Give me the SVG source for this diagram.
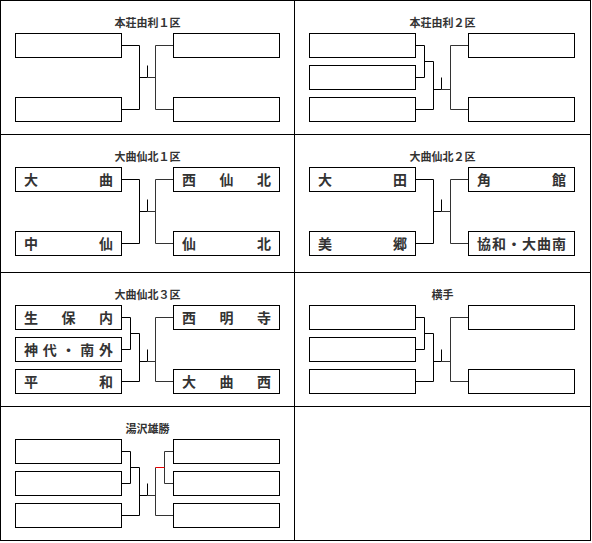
<svg xmlns="http://www.w3.org/2000/svg" width="592" height="543" viewBox="0 0 592 543">
<style>
.grid{fill:none;stroke:#000;stroke-width:1}
.box{fill:#fff;stroke:#000;stroke-width:1}
.ln{fill:none;stroke:#000;stroke-width:1}
.lr{fill:none;stroke:#333;stroke-width:1}
.red{fill:none;stroke:#e00;stroke-width:1}
.title{font-family:"Noto Sans CJK JP","Noto Sans CJK SC",sans-serif;font-size:11px;font-weight:bold;fill:#333;text-anchor:middle}
.name{font-family:"Noto Sans CJK JP","Noto Sans CJK SC",sans-serif;font-size:14px;font-weight:bold;fill:#333}
</style>
<rect width="592" height="543" fill="#fff"/>
<g id="grid">
<rect class="grid" x="0.5" y="0.5" width="590" height="540"/>
<path class="grid" d="M294.5 0.5V540.5M0.5 134.5H590.5M0.5 272.5H590.5M0.5 406.5H590.5"/>
</g>
<g id="connectors">
<path class="ln" d="M121.5 45.5H139.5V109.5H121.5M139.5 77.5H147.5M147.5 65.5V77.5"/>
<path class="lr" d="M147.5 77.5H155.5M173.5 45.5H155.5V109.5H173.5"/>
<path class="ln" d="M415.5 45.5H424.5V77.5H415.5M424.5 61.5H433.5V109.5H415.5M433.5 89.5H441.5M441.5 77.5V89.5"/>
<path class="lr" d="M441.5 89.5H450.5M468.5 45.5H450.5V109.5H468.5"/>
<path class="ln" d="M121.5 179.5H139.5V243.5H121.5M139.5 211.5H147.5M147.5 199.5V211.5"/>
<path class="lr" d="M147.5 211.5H155.5M173.5 179.5H155.5V243.5H173.5"/>
<path class="ln" d="M415.5 179.5H433.5V243.5H415.5M433.5 211.5H441.5M441.5 199.5V211.5"/>
<path class="lr" d="M441.5 211.5H450.5M468.5 179.5H450.5V243.5H468.5"/>
<path class="ln" d="M121.5 317.5H130.5V349.5H121.5M130.5 333.5H139.5V381.5H121.5M139.5 361.5H147.5M147.5 349.5V361.5"/>
<path class="lr" d="M147.5 361.5H155.5M173.5 317.5H155.5V381.5H173.5"/>
<path class="ln" d="M415.5 317.5H424.5V349.5H415.5M424.5 333.5H433.5V381.5H415.5M433.5 361.5H441.5M441.5 349.5V361.5"/>
<path class="lr" d="M441.5 361.5H450.5M468.5 317.5H450.5V381.5H468.5"/>
<path class="ln" d="M121.5 451.5H130.5V483.5H121.5M130.5 467.5H139.5V515.5H121.5M139.5 495.5H147.5M147.5 483.5V495.5"/>
<path class="lr" d="M147.5 495.5H155.5M173.5 451.5H164.5V483.5H173.5M155.5 467.5V515.5H173.5"/>
<path class="red" d="M155.5 467.5H164.5"/>
</g>
<g id="block-honjo-yuri-1">
<text class="title" x="147.5" y="26.5">本荘由利１区</text>
<g id="n1-1"><rect class="box" x="15.5" y="33.5" width="106" height="24"/></g>
<g id="n1-2"><rect class="box" x="15.5" y="97.5" width="106" height="24"/></g>
<g id="n1-3"><rect class="box" x="173.5" y="33.5" width="106" height="24"/></g>
<g id="n1-4"><rect class="box" x="173.5" y="97.5" width="106" height="24"/></g>
</g>
<g id="block-honjo-yuri-2">
<text class="title" x="442.5" y="26.5">本荘由利２区</text>
<g id="n2-1"><rect class="box" x="309.5" y="33.5" width="106" height="24"/></g>
<g id="n2-2"><rect class="box" x="309.5" y="65.5" width="106" height="24"/></g>
<g id="n2-3"><rect class="box" x="309.5" y="97.5" width="106" height="24"/></g>
<g id="n2-4"><rect class="box" x="468.5" y="33.5" width="106" height="24"/></g>
<g id="n2-5"><rect class="box" x="468.5" y="97.5" width="106" height="24"/></g>
</g>
<g id="block-omagari-senboku-1">
<text class="title" x="147.5" y="160.5">大曲仙北１区</text>
<g id="n3-1"><rect class="box" x="15.5" y="167.5" width="106" height="24"/><text class="name" x="24 99" y="184.5">大曲</text></g>
<g id="n3-2"><rect class="box" x="15.5" y="231.5" width="106" height="24"/><text class="name" x="24 99" y="248.5">中仙</text></g>
<g id="n3-3"><rect class="box" x="173.5" y="167.5" width="106" height="24"/><text class="name" x="182 219.5 257" y="184.5">西仙北</text></g>
<g id="n3-4"><rect class="box" x="173.5" y="231.5" width="106" height="24"/><text class="name" x="182 257" y="248.5">仙北</text></g>
</g>
<g id="block-omagari-senboku-2">
<text class="title" x="442.5" y="160.5">大曲仙北２区</text>
<g id="n4-1"><rect class="box" x="309.5" y="167.5" width="106" height="24"/><text class="name" x="318 393" y="184.5">大田</text></g>
<g id="n4-2"><rect class="box" x="309.5" y="231.5" width="106" height="24"/><text class="name" x="318 393" y="248.5">美郷</text></g>
<g id="n4-3"><rect class="box" x="468.5" y="167.5" width="106" height="24"/><text class="name" x="477 552" y="184.5">角館</text></g>
<g id="n4-4"><rect class="box" x="468.5" y="231.5" width="106" height="24"/><text class="name" x="477 492 507 522 537 552" y="248.5">協和・大曲南</text></g>
</g>
<g id="block-omagari-senboku-3">
<text class="title" x="147.5" y="298.5">大曲仙北３区</text>
<g id="n5-1"><rect class="box" x="15.5" y="305.5" width="106" height="24"/><text class="name" x="24 61.5 99" y="322.5">生保内</text></g>
<g id="n5-2"><rect class="box" x="15.5" y="337.5" width="106" height="24"/><text class="name" x="24 42.75 61.5 80.25 99" y="354.5">神代・南外</text></g>
<g id="n5-3"><rect class="box" x="15.5" y="369.5" width="106" height="24"/><text class="name" x="24 99" y="386.5">平和</text></g>
<g id="n5-4"><rect class="box" x="173.5" y="305.5" width="106" height="24"/><text class="name" x="182 219.5 257" y="322.5">西明寺</text></g>
<g id="n5-5"><rect class="box" x="173.5" y="369.5" width="106" height="24"/><text class="name" x="182 219.5 257" y="386.5">大曲西</text></g>
</g>
<g id="block-yokote">
<text class="title" x="442.5" y="298.5">横手</text>
<g id="n6-1"><rect class="box" x="309.5" y="305.5" width="106" height="24"/></g>
<g id="n6-2"><rect class="box" x="309.5" y="337.5" width="106" height="24"/></g>
<g id="n6-3"><rect class="box" x="309.5" y="369.5" width="106" height="24"/></g>
<g id="n6-4"><rect class="box" x="468.5" y="305.5" width="106" height="24"/></g>
<g id="n6-5"><rect class="box" x="468.5" y="369.5" width="106" height="24"/></g>
</g>
<g id="block-yuzawa-ogachi">
<text class="title" x="147.5" y="432.5">湯沢雄勝</text>
<g id="n7-1"><rect class="box" x="15.5" y="439.5" width="106" height="24"/></g>
<g id="n7-2"><rect class="box" x="15.5" y="471.5" width="106" height="24"/></g>
<g id="n7-3"><rect class="box" x="15.5" y="503.5" width="106" height="24"/></g>
<g id="n7-4"><rect class="box" x="173.5" y="439.5" width="106" height="24"/></g>
<g id="n7-5"><rect class="box" x="173.5" y="471.5" width="106" height="24"/></g>
<g id="n7-6"><rect class="box" x="173.5" y="503.5" width="106" height="24"/></g>
</g>
</svg>
